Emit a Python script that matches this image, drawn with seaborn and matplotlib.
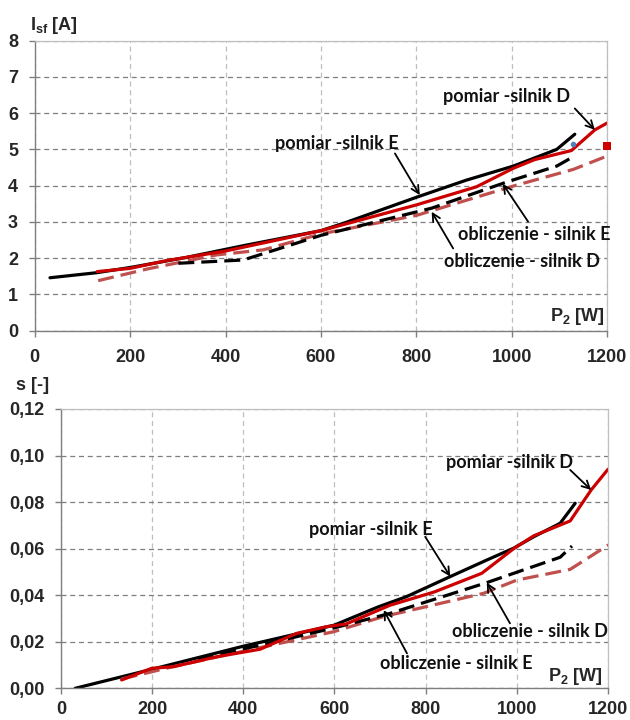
import matplotlib
matplotlib.use('Agg')
import matplotlib.pyplot as plt
import seaborn as sns

# --- top chart: I_sf [A] vs P2 [W] ---
top_pom_e_p = [32, 130, 203, 321, 439, 600, 651, 800, 904, 1003, 1094, 1132]
top_pom_e_i = [1.46, 1.60, 1.75, 2.03, 2.35, 2.76, 2.98, 3.68, 4.15, 4.54, 5.00, 5.42]

top_pom_d_p = [131, 200, 279, 397, 600, 800, 926, 1003, 1048, 1125, 1174, 1200]
top_pom_d_i = [1.63, 1.72, 1.94, 2.19, 2.76, 3.47, 3.97, 4.48, 4.72, 4.97, 5.54, 5.73]

top_obl_e_p = [301, 437, 514, 600, 832, 989, 1094, 1129]
top_obl_e_i = [1.86, 1.95, 2.27, 2.63, 3.38, 4.10, 4.54, 4.80]

top_obl_d_p = [133, 235, 381, 479, 600, 800, 1003, 1129, 1200]
top_obl_d_i = [1.38, 1.70, 2.09, 2.23, 2.67, 3.18, 3.99, 4.45, 4.82]

top_marker_red = (1200, 5.10)
top_marker_blue = (1129, 5.15)

# --- bottom chart: s [-] vs P2 [W] ---
bot_pom_e_p = [31, 202, 396, 599, 696, 757, 854, 934, 993, 1037, 1095, 1128]
bot_pom_e_s = [0.0, 0.0083, 0.0179, 0.0271, 0.0350, 0.0393, 0.0480, 0.0551, 0.0602, 0.0651, 0.0709, 0.0795]

bot_pom_d_p = [133, 199, 247, 343, 437, 466, 517, 583, 625, 722, 819, 923, 993, 1037, 1117, 1163, 1200]
bot_pom_d_s = [0.0036, 0.0086, 0.0093, 0.0136, 0.0168, 0.0193, 0.0236, 0.0265, 0.0276, 0.0357,
               0.0414, 0.0494, 0.0600, 0.0655, 0.0719, 0.0852, 0.0941]

bot_obl_e_p = [300, 437, 600, 722, 934, 1095, 1121]
bot_obl_e_s = [0.0128, 0.0185, 0.0260, 0.0322, 0.0454, 0.0563, 0.0611]

bot_obl_d_p = [133, 250, 437, 598, 707, 927, 1000, 1117, 1201]
bot_obl_d_s = [0.0040, 0.0095, 0.0175, 0.0243, 0.0308, 0.0408, 0.0465, 0.0511, 0.0616]

x_ticks = [0, 200, 400, 600, 800, 1000, 1200]
top_y_ticks = [0, 1, 2, 3, 4, 5, 6, 7, 8]
bot_y_ticks = [0.0, 0.02, 0.04, 0.06, 0.08, 0.10, 0.12]
bot_y_labels = ['0,00', '0,02', '0,04', '0,06', '0,08', '0,10', '0,12']

BLACK = '#000000'
RED = '#cc0000'
LRED = '#c0504d'
DASH = (0, (5, 2.2))

sns.set_style('white')
plt.rcParams['font.family'] = ['Liberation Sans', 'DejaVu Sans']
plt.rcParams['font.weight'] = 'bold'
plt.rcParams['mathtext.fontset'] = 'custom'
plt.rcParams['mathtext.rm'] = 'Liberation Sans:bold'
plt.rcParams['mathtext.bf'] = 'Liberation Sans:bold'
plt.rcParams['mathtext.it'] = 'Liberation Sans:bold'
LABEL_FONT = ['Lato', 'Liberation Sans', 'DejaVu Sans']

fig = plt.figure(figsize=(6.3, 7.2), dpi=100)
ax1 = fig.add_axes([0.0551, 0.5407, 0.9088, 0.4028])
ax2 = fig.add_axes([0.0968, 0.0440, 0.8683, 0.3880])


def draw(ax, x, y, color, ls):
    sns.lineplot(x=x, y=y, ax=ax, color=color, lw=2.3, linestyle=ls,
                 estimator=None, sort=False)


def style_axis(ax, ylim, yticks, ylabels=None, xpad=8):
    ax.set_xlim(0, 1200)
    ax.set_ylim(*ylim)
    ax.set_xticks(x_ticks)
    ax.set_yticks(yticks)
    if ylabels is not None:
        ax.set_yticklabels(ylabels)
    ax.set_xlabel('')
    ax.set_ylabel('')
    ax.yaxis.grid(True, color='#7f7f7f', ls=(0, (4, 3)), lw=0.9)
    ax.xaxis.grid(True, color='#bfbfbf', ls=(0, (4, 3)), lw=0.9)
    ax.set_axisbelow(True)
    for side in ['left', 'bottom']:
        ax.spines[side].set_color('#7f7f7f')
        ax.spines[side].set_linewidth(1.0)
    for side in ['top', 'right']:
        ax.spines[side].set_color('#bfbfbf')
        ax.spines[side].set_linewidth(0.9)
    ax.tick_params(axis='both', direction='out', length=4, width=1.0,
                   color='#7f7f7f', labelsize=13)
    ax.tick_params(axis='x', pad=xpad, bottom=True)
    ax.tick_params(axis='y', pad=8, left=True)
    for t in ax.get_xticklabels() + ax.get_yticklabels():
        t.set_fontweight('bold')


def label(ax, txt, pos, tail, head):
    ax.text(pos[0], pos[1], txt, ha='center', va='center', fontsize=13,
            fontweight='bold', family=LABEL_FONT, color='#111111')
    ax.annotate('', xy=head, xytext=tail,
                arrowprops=dict(arrowstyle='->,head_length=0.55,head_width=0.28',
                                color='black', lw=1.3, shrinkA=0, shrinkB=0))


# top chart
draw(ax1, top_pom_e_p, top_pom_e_i, BLACK, '-')
draw(ax1, top_obl_d_p, top_obl_d_i, LRED, DASH)
draw(ax1, top_obl_e_p, top_obl_e_i, BLACK, DASH)
draw(ax1, top_pom_d_p, top_pom_d_i, RED, '-')
sns.scatterplot(x=[top_marker_red[0]], y=[top_marker_red[1]], ax=ax1, marker='s',
                color='#d00000', s=32, linewidth=0, clip_on=False, zorder=5)
sns.scatterplot(x=[top_marker_blue[0]], y=[top_marker_blue[1]], ax=ax1, marker='o',
                color='#4f81bd', s=16, linewidth=0, clip_on=False, zorder=5)
style_axis(ax1, (0, 8), top_y_ticks, xpad=9)

label(ax1, 'pomiar -silnik D', (988, 6.45), (1132, 6.13), (1174, 5.54))
label(ax1, 'pomiar -silnik E', (634, 5.17), (755, 4.89), (807, 3.74))
label(ax1, 'obliczenie - silnik E', (1046, 2.66), (1034, 3.01), (981, 4.05))
label(ax1, 'obliczenie - silnik D', (1021, 1.92), (877, 2.27), (832, 3.28))
ax1.text(0.996, 0.012, r'$\mathbf{P_{2}}$ [W]', transform=ax1.transAxes,
         ha='right', va='bottom', fontsize=13, fontweight='bold')

# bottom chart
draw(ax2, bot_pom_e_p, bot_pom_e_s, BLACK, '-')
draw(ax2, bot_obl_d_p, bot_obl_d_s, LRED, DASH)
draw(ax2, bot_obl_e_p, bot_obl_e_s, BLACK, DASH)
draw(ax2, bot_pom_d_p, bot_pom_d_s, RED, '-')
style_axis(ax2, (0, 0.12), bot_y_ticks, bot_y_labels, xpad=5)

label(ax2, 'pomiar -silnik D', (983, 0.0969), (1117, 0.0938), (1163, 0.0852))
label(ax2, 'pomiar -silnik E', (680, 0.0683), (799, 0.0651), (854, 0.0480))
label(ax2, 'obliczenie - silnik D', (1029, 0.0246), (985, 0.0279), (934, 0.0454))
label(ax2, 'obliczenie - silnik E', (867, 0.0107), (759, 0.0150), (708, 0.0336))
ax2.text(0.991, 0.006, r'$\mathbf{P_{2}}$ [W]', transform=ax2.transAxes,
         ha='right', va='bottom', fontsize=13, fontweight='bold')

# axis titles in the corners
fig.text(0.047, 0.965, r'$\mathbf{I_{sf}}$ [A]', ha='left', va='center',
         fontsize=13, fontweight='bold')
fig.text(0.026, 0.464, 's [-]', ha='left', va='center',
         fontsize=13, fontweight='bold')

fig.savefig('out.png', dpi=100)
